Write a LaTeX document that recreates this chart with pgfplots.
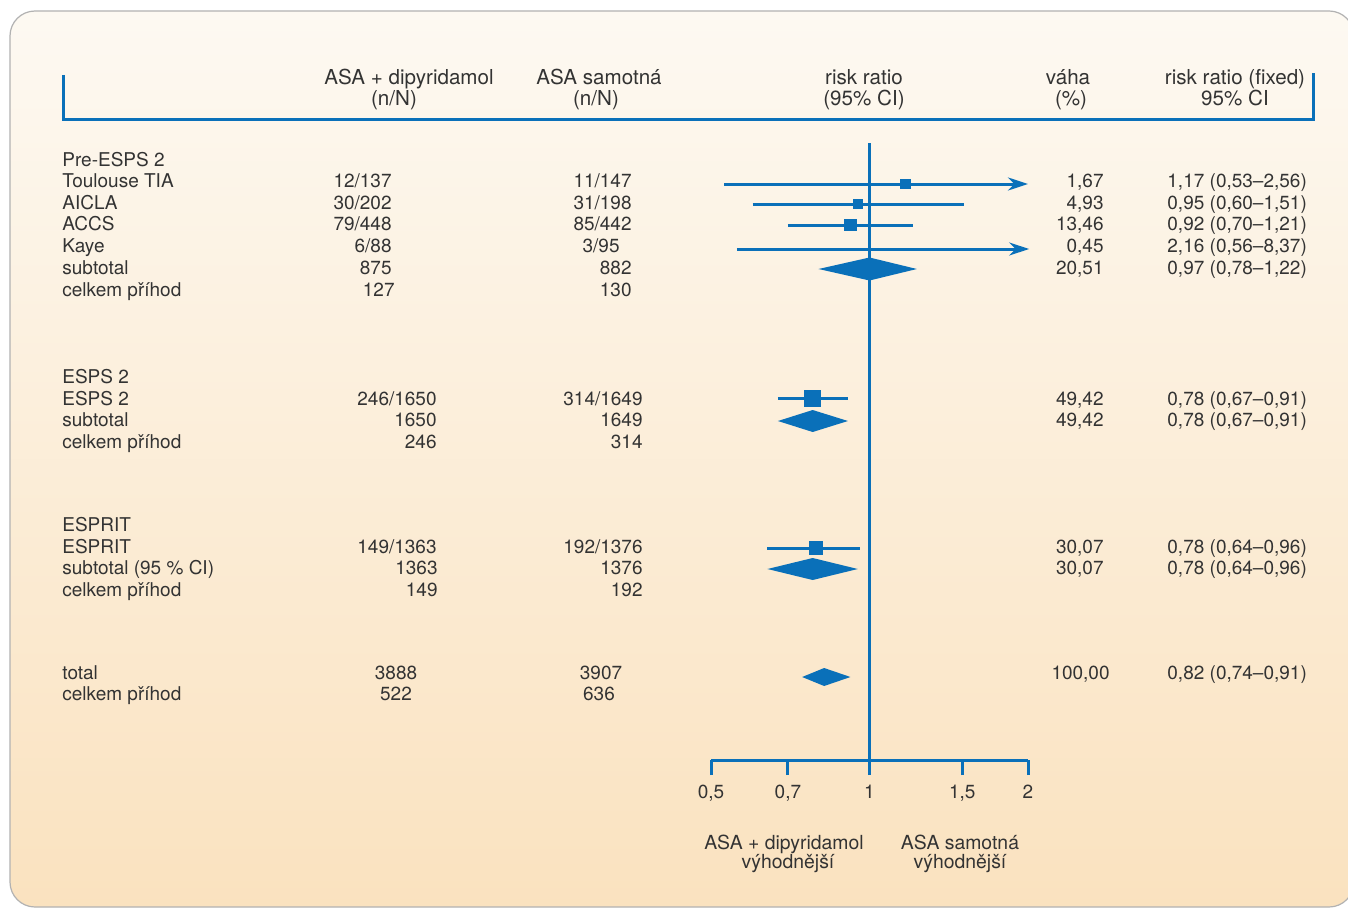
\documentclass[border=0pt]{standalone}
\usepackage{fontspec}
\setmainfont{TeX Gyre Heros}
\usepackage{pgfplots}
\pgfplotsset{compat=1.18}
\usetikzlibrary{arrows.meta}
\definecolor{fpblue}{HTML}{0A70B9}
\definecolor{txt}{HTML}{333333}
\definecolor{bgtop}{HTML}{FDF9F2}
\definecolor{bgbot}{HTML}{FAE2BF}
\tikzset{t/.style={text=txt,font=\fontsize{9.5pt}{11pt}\selectfont,inner sep=0pt},
  h/.style={text=txt,font=\fontsize{10.3pt}{12pt}\selectfont,inner sep=0pt,anchor=base}}
\begin{document}
\begin{tikzpicture}
\begin{scope}[x=0.5pt,y=-0.5pt]
\useasboundingbox (0,0) rectangle (1348,909);
\fill[white] (0,0) rectangle (1348,909);
\shade[top color=bgtop,bottom color=bgbot,rounded corners=12.5pt] (10,11) rectangle (1354,907);
\draw[black!30,line width=0.6pt,rounded corners=12.5pt] (10,11) rectangle (1354,907);
\draw[fpblue,line width=1.5pt] (63,75) -- (63,120) -- (1313,120) -- (1313,73);
% headers
\node[h] at (409,85) {ASA + dipyridamol};
\node[h] at (394,106) {(n/N)};
\node[h] at (599,85) {ASA samotná};
\node[h] at (596,106) {(n/N)};
\node[h] at (864,85) {risk ratio};
\node[h] at (864,106) {(95\% CI)};
\node[h] at (1068,85) {váha};
\node[h] at (1071,106) {(\%)};
\node[h] at (1235,85) {risk ratio (fixed)};
\node[h] at (1235,106) {95\% CI};
% left labels
\foreach \y/\s in {167/Pre-ESPS 2,188/Toulouse TIA,210/AICLA,231/ACCS,253/Kaye,274/subtotal,296/celkem příhod,
  383/ESPS 2,405/ESPS 2,426/subtotal,448/celkem příhod,
  531/ESPRIT,553/ESPRIT,574/subtotal (95 \% CI),596/celkem příhod,
  679/total,700/celkem příhod}
  \node[t,anchor=base west] at (62,\y) {\s};
% column 2
\foreach \x/\y/\s in {392/188/12\slash137,392/210/30\slash202,392/231/79\slash448,392/253/6\slash88,392/274/875,395/296/127,
  437/405/246\slash1650,437/426/1650,437/448/246,437/553/149\slash1363,438/574/1363,438/596/149}
  \node[t,anchor=base east] at (\x,\y) {\s};
\node[t,anchor=base] at (396,679) {3888};
\node[t,anchor=base] at (396,700) {522};
% column 3
\foreach \x/\y/\s in {632/188/11\slash147,632/210/31\slash198,632/231/85\slash442,620/253/3\slash95,632/274/882,632/296/130,
  643/405/314\slash1649,643/426/1649,643/448/314,643/553/192\slash1376,643/574/1376,643/596/192}
  \node[t,anchor=base east] at (\x,\y) {\s};
\node[t,anchor=base] at (601,679) {3907};
\node[t,anchor=base] at (599,700) {636};
% weights
\foreach \y/\s in {188/{1,67},210/{4,93},231/{13,46},253/{0,45},274/{20,51},405/{49,42},426/{49,42},553/{30,07},574/{30,07}}
  \node[t,anchor=base east] at (1104,\y) {\s};
\node[t,anchor=base east] at (1110,679) {100,00};
% risk ratios
\foreach \y/\s in {188/{1,17 (0,53–2,56)},210/{0,95 (0,60–1,51)},231/{0,92 (0,70–1,21)},253/{2,16 (0,56–8,37)},274/{0,97 (0,78–1,22)},
  405/{0,78 (0,67–0,91)},426/{0,78 (0,67–0,91)},553/{0,78 (0,64–0,96)},574/{0,78 (0,64–0,96)},679/{0,82 (0,74–0,91)}}
  \node[t,anchor=base west] at (1167,\y) {\s};
% bottom labels
\node[t,anchor=base,font=\fontsize{9.7pt}{11pt}\selectfont] at (784,849) {ASA + dipyridamol};
\node[t,anchor=base,font=\fontsize{9.7pt}{11pt}\selectfont] at (788,868) {výhodnější};
\node[t,anchor=base,font=\fontsize{9.7pt}{11pt}\selectfont] at (960,849) {ASA samotná};
\node[t,anchor=base,font=\fontsize{9.7pt}{11pt}\selectfont] at (960,868) {výhodnější};
\end{scope}
\begin{axis}[
  at={(355.5pt,-380pt)}, anchor=south west,
  width=158.5pt, height=308.5pt, scale only axis,
  xmode=log, xmin=0.5, xmax=2, ymin=-760, ymax=-143,
  axis y line=none, axis x line*=bottom,
  axis line style={fpblue,line width=1.5pt},
  xtick={0.5,0.7,1,1.5,2}, xticklabels={}, minor xtick={},
  tick align=outside, major tick length=7.5pt,
  xtick style={fpblue,line width=1.5pt},
  clip=false,
]
\addplot[fpblue,line width=1.5pt] coordinates {(1,-760)(1,-143)};
% Pre-ESPS 2
\addplot[fpblue,line width=1.5pt,-{Stealth[length=10pt,width=6.5pt]}] coordinates {(0.53,-184)(2,-184)};
\addplot[fpblue,line width=1.5pt] coordinates {(0.60,-204)(1.51,-204)};
\addplot[fpblue,line width=1.5pt] coordinates {(0.70,-225)(1.21,-225)};
\addplot[fpblue,line width=1.5pt,-{Stealth[length=10pt,width=6.5pt]}] coordinates {(0.56,-249)(2.01,-249)};
\addplot[only marks,mark=square*,mark size=2.3pt,fpblue] coordinates {(1.17,-183.5)};
\addplot[only marks,mark=square*,mark size=2.4pt,fpblue] coordinates {(0.95,-204)};
\addplot[only marks,mark=square*,mark size=2.8pt,fpblue] coordinates {(0.92,-225)};
\addplot[fill=fpblue,draw=none] coordinates {(0.80,-269)(1.00,-257.5)(1.23,-269)(1.00,-280.5)} -- cycle;
% ESPS 2
\addplot[fpblue,line width=1.5pt] coordinates {(0.67,-398)(0.91,-398)};
\addplot[only marks,mark=square*,mark size=4pt,fpblue] coordinates {(0.78,-398)};
\addplot[fill=fpblue,draw=none] coordinates {(0.67,-421)(0.78,-410)(0.91,-421)(0.78,-432)} -- cycle;
% ESPRIT
\addplot[fpblue,line width=1.5pt] coordinates {(0.64,-548)(0.96,-548)};
\addplot[only marks,mark=square*,mark size=3.2pt,fpblue] coordinates {(0.79,-548)};
\addplot[fill=fpblue,draw=none] coordinates {(0.64,-569)(0.78,-558)(0.95,-569)(0.78,-580)} -- cycle;
% total
\addplot[fill=fpblue,draw=none] coordinates {(0.745,-677)(0.82,-668)(0.92,-677)(0.82,-686)} -- cycle;
% tick labels
\node[t,anchor=base] at (axis cs:0.5,-798) {0,5};
\node[t,anchor=base] at (axis cs:0.7,-798) {0,7};
\node[t,anchor=base] at (axis cs:1,-798) {1};
\node[t,anchor=base] at (axis cs:1.5,-798) {1,5};
\node[t,anchor=base] at (axis cs:2,-798) {2};
\end{axis}
\end{tikzpicture}
\end{document}
